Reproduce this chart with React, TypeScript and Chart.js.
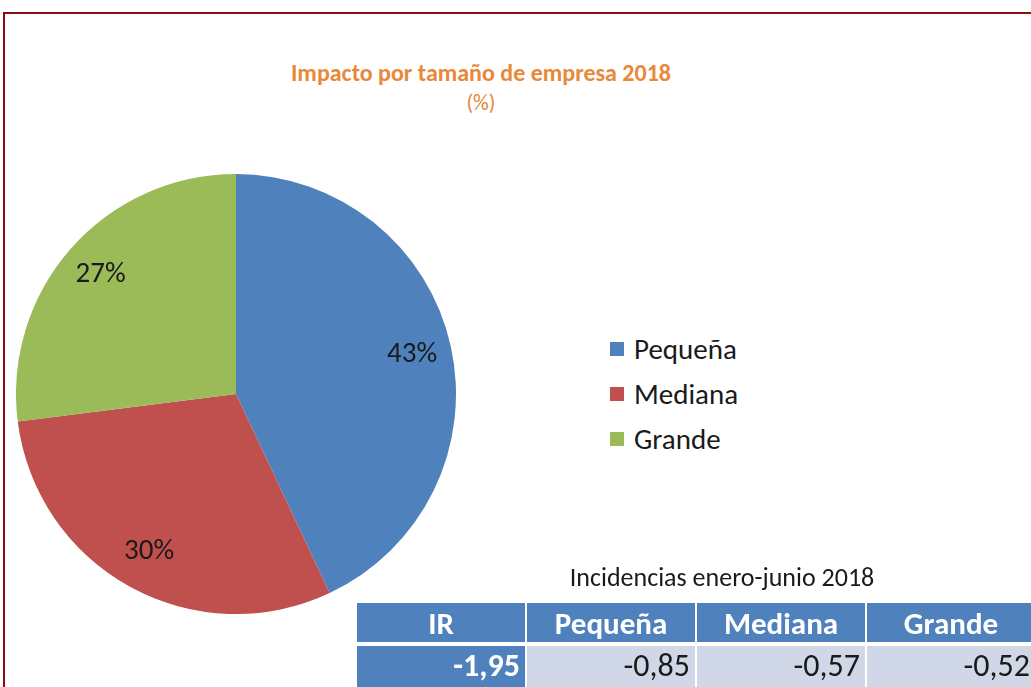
import React, { useEffect, useRef } from "react";
import { Chart, registerables } from "chart.js";

Chart.register(...registerables);

const categories = ["Pequeña", "Mediana", "Grande"];
const shares = [43, 30, 27];
const sliceColors = ["#4F81BD", "#C0504D", "#9BBB59"];
const tableHeaders = ["IR", "Pequeña", "Mediana", "Grande"];
const tableValues = ["-1,95", "-0,85", "-0,57", "-0,52"];

const FONT = "Carlito, Calibri, 'Open Sans', sans-serif";

const labelPlugin = {
  id: "sliceLabels",
  afterDatasetsDraw(chart: any) {
    const ctx = chart.ctx;
    const meta = chart.getDatasetMeta(0);
    ctx.save();
    ctx.font = `29px ${FONT}`;
    ctx.fillStyle = "#1a1a1a";
    ctx.textAlign = "center";
    ctx.textBaseline = "middle";
    meta.data.forEach((arc: any, i: number) => {
      const p = arc.getProps(["x", "y", "startAngle", "endAngle", "outerRadius"], true);
      const mid = (p.startAngle + p.endAngle) / 2;
      const r = p.outerRadius * 0.82;
      ctx.fillText(
        `${chart.data.datasets[0].data[i]}%`,
        p.x + Math.cos(mid) * r,
        p.y + Math.sin(mid) * r
      );
    });
    ctx.restore();
  },
};

export default function App() {
  const ref = useRef<HTMLCanvasElement | null>(null);
  useEffect(() => {
    if (!ref.current) return;
    const chart = new Chart(ref.current, {
      type: "pie",
      data: {
        labels: categories,
        datasets: [{ data: shares, backgroundColor: sliceColors, borderWidth: 0 }],
      },
      options: {
        animation: false,
        responsive: false,
        maintainAspectRatio: false,
        layout: { padding: 0 },
        plugins: { legend: { display: false }, tooltip: { enabled: false } },
      },
      plugins: [labelPlugin],
    });
    return () => chart.destroy();
  }, []);

  return (
    <div
      style={{
        position: "absolute",
        left: 0,
        top: 0,
        width: 1031,
        height: 687,
        overflow: "hidden",
        background: "#fff",
        fontFamily: FONT,
      }}
    >
      <div
        style={{
          position: "absolute",
          left: 3,
          top: 12,
          width: 1200,
          height: 900,
          border: "2px solid #8B0F0F",
        }}
      />
      <div
        style={{
          position: "absolute",
          left: 180,
          width: 602,
          top: 58,
          textAlign: "center",
          color: "#E8893A",
          fontSize: 24,
          lineHeight: "30px",
        }}
      >
        <div style={{ fontWeight: 700 }}>Impacto por tamaño de empresa 2018</div>
        <div style={{ fontSize: 22 }}>(%)</div>
      </div>
      <canvas
        ref={ref}
        width={440}
        height={440}
        style={{ position: "absolute", left: 16, top: 174, width: 440, height: 440 }}
      />
      <div style={{ position: "absolute", left: 610, top: 326 }}>
        {categories.map((c, i) => (
          <div
            key={c}
            style={{ display: "flex", alignItems: "center", height: 45, fontSize: 29, color: "#1a1a1a" }}
          >
            <span
              style={{ width: 14, height: 14, background: sliceColors[i], marginRight: 10, display: "inline-block" }}
            />
            {c}
          </div>
        ))}
      </div>
      <div
        style={{
          position: "absolute",
          left: 357,
          width: 730,
          top: 561,
          textAlign: "center",
          fontSize: 26,
          color: "#1a1a1a",
        }}
      >
        Incidencias enero-junio 2018
      </div>
      <div style={{ position: "absolute", left: 357, top: 603 }}>
        <div style={{ display: "flex", gap: 2 }}>
          {tableHeaders.map((h) => (
            <div
              key={h}
              style={{
                width: 168,
                height: 39,
                background: "#4F81BD",
                color: "#fff",
                fontWeight: 700,
                fontSize: 31,
                textAlign: "center",
                lineHeight: "40px",
              }}
            >
              {h}
            </div>
          ))}
        </div>
        <div style={{ display: "flex", gap: 2, marginTop: 4 }}>
          {tableValues.map((v, i) => (
            <div
              key={i}
              style={{
                width: 168,
                height: 42,
                boxSizing: "border-box",
                paddingRight: 5,
                background: i === 0 ? "#4F81BD" : "#D0D8E8",
                color: i === 0 ? "#fff" : "#1a1a1a",
                fontWeight: i === 0 ? 700 : 400,
                fontSize: 32,
                textAlign: "right",
                lineHeight: "40px",
              }}
            >
              {v}
            </div>
          ))}
        </div>
      </div>
    </div>
  );
}
